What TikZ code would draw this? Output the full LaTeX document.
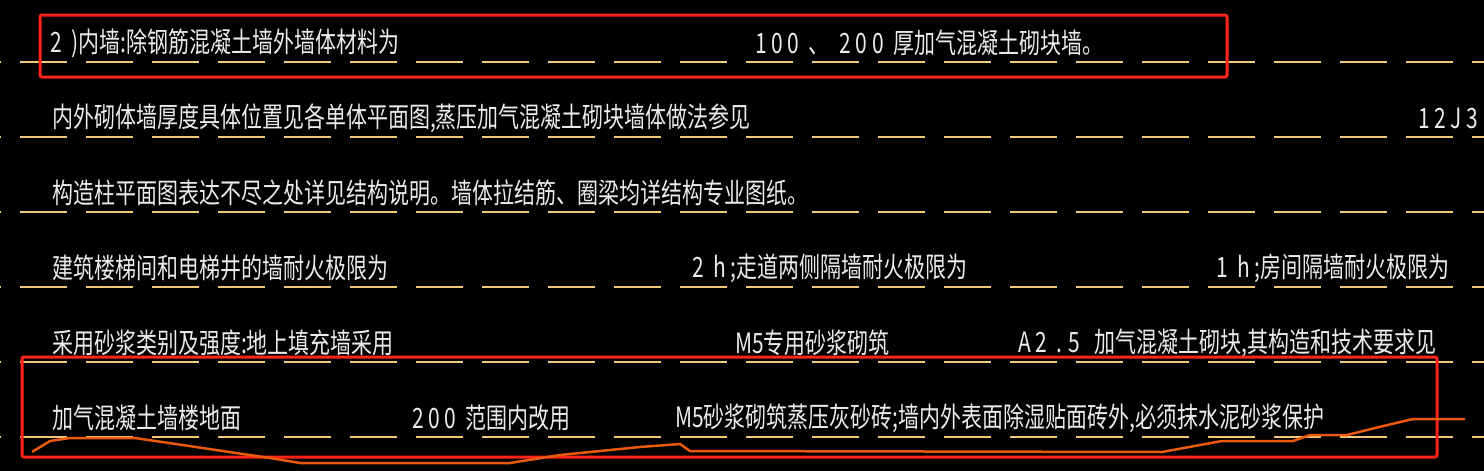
\documentclass[tikz,border=0pt]{standalone}
\usepackage{fontspec}
\setmainfont{Noto Sans CJK SC}
\definecolor{cadbg}{RGB}{0,0,0}
\definecolor{cadtext}{RGB}{235,235,235}
\definecolor{cadline}{RGB}{240,200,120}
\definecolor{cadred}{RGB}{255,35,25}
\definecolor{cadorange}{RGB}{235,90,10}
\begin{document}
\begin{tikzpicture}[x=1pt,y=-1pt,
    txt/.style={anchor=west, text=cadtext, inner sep=0pt, xscale=0.75, transform shape, font=\fontsize{28}{28}\selectfont},
    guide/.style={draw=cadline, line width=1.2pt, dash pattern=on 47pt off 19pt, dash phase=-20pt},
    redbox/.style={draw=cadred, line width=3pt, rounded corners=2pt}
]
    \fill[cadbg] (0,0) rectangle (1484,471);
    \useasboundingbox (0,0) rectangle (1484,471);
    % guide lines
    \foreach \yy in {62,137,212,287,362,437}
        \draw[guide] (0,\yy) -- (1484,\yy);
    % row 1
    \node[txt] (r1a) at (50,43) {2 \ )内墙:除钢筋混凝土墙外墙体材料为};
    \node[txt] (r1b) at (755,43) {1 0 0 \ 、 \ 2 0 0 \ 厚加气混凝土砌块墙。};
    % row 2
    \node[txt] (r2a) at (52,118) {内外砌体墙厚度具体位置见各单体平面图,蒸压加气混凝土砌块墙体做法参见};
    \node[txt] (r2b) at (1418,118) {1 2 J 3};
    % row 3
    \node[txt] (r3a) at (52,193) {构造柱平面图表达不尽之处详见结构说明。墙体拉结筋、圈梁均详结构专业图纸。};
    % row 4
    \node[txt] (r4a) at (52,268) {建筑楼梯间和电梯井的墙耐火极限为};
    \node[txt] (r4b) at (692,268) {2 \ h ;走道两侧隔墙耐火极限为};
    \node[txt] (r4c) at (1216,268) {1 \ h ;房间隔墙耐火极限为};
    % row 5
    \node[txt] (r5a) at (52,343) {采用砂浆类别及强度:地上填充墙采用};
    \node[txt] (r5b) at (735,343) {M5专用砂浆砌筑};
    \node[txt] (r5c) at (1018,343) {A 2 \ . 5 \ \ 加气混凝土砌块,其构造和技术要求见};
    % row 6
    \node[txt] (r6a) at (52,418) {加气混凝土墙楼地面};
    \node[txt] (r6b) at (412,418) {2 0 0 \ 范围内改用};
    \node[txt] (r6c) at (675,418) {M5砂浆砌筑蒸压灰砂砖;墙内外表面除湿贴面砖外,必须抹水泥砂浆保护};
    % red marks
    \draw[redbox] (40,15) rectangle (1227,77);
    \draw[redbox] (22,357) rectangle (1437,457);
    % freehand underline
    \draw[cadorange, line width=2.5pt, line join=round]
        (32,452) -- (50,441) -- (70,438) -- (135,438) -- (270,458) -- (300,463)
        -- (510,463) -- (560,455) -- (640,447) -- (680,444) -- (690,451)
        -- (1162,452) -- (1222,441) -- (1293,441) -- (1310,435) -- (1347,435)
        -- (1375,428) -- (1413,419) -- (1465,419);
\end{tikzpicture}
\end{document}
